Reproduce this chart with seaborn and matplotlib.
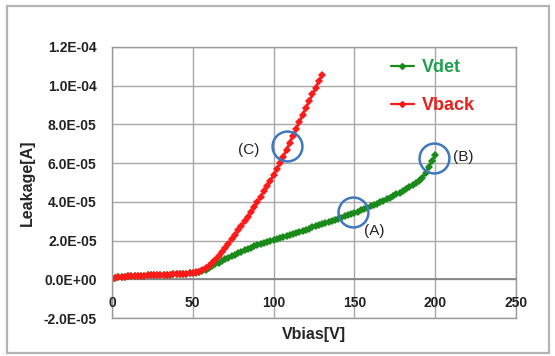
import numpy as np
import pandas as pd
import seaborn as sns
import matplotlib
matplotlib.use("Agg")
import matplotlib.pyplot as plt
from matplotlib.lines import Line2D
from matplotlib.patches import Rectangle

# Bias voltage sweeps [V]
vback_bias = list(range(0, 131, 2))
vdet_bias = list(range(0, 201, 2))

# Leakage current in microamps for the back-side bias sweep
vback_leak_ua = [
    0.2, 0.8, 1.1, 1.3, 1.4, 1.5, 1.6, 1.7, 1.8, 1.8,
    1.9, 2.0, 2.0, 2.1, 2.2, 2.2, 2.3, 2.4, 2.4, 2.5,
    2.6, 2.7, 2.8, 2.9, 3.1, 3.3, 3.6, 4.0, 4.7, 5.6,
    6.8, 8.3, 10.0, 11.9, 13.9, 16.0, 18.3, 20.6, 22.9, 25.3,
    27.7, 30.0, 32.3, 34.8, 37.4, 40.0, 42.7, 45.4, 48.2, 51.0,
    53.9, 56.9, 60.0, 63.4, 67.0, 70.6, 74.2, 77.8, 81.4, 85.0,
    88.6, 92.0, 95.5, 98.9, 102.2, 105.4,
]

# Leakage current in microamps for the detector bias sweep
vdet_leak_ua = [
    0.2, 0.8, 1.1, 1.3, 1.4, 1.5, 1.6, 1.7, 1.8, 1.8,
    1.9, 2.0, 2.0, 2.1, 2.2, 2.2, 2.3, 2.4, 2.4, 2.5,
    2.6, 2.7, 2.8, 2.9, 3.1, 3.3, 3.5, 3.9, 4.4, 5.0,
    5.8, 6.8, 7.7, 8.6, 9.5, 10.4, 11.2, 12.0, 12.8, 13.6,
    14.3, 15.0, 15.8, 16.4, 17.0, 17.6, 18.2, 18.7, 19.2, 19.7,
    20.2, 20.7, 21.3, 21.8, 22.4, 22.9, 23.5, 24.0, 24.6, 25.1,
    25.7, 26.2, 26.8, 27.3, 27.9, 28.4, 29.0, 29.5, 30.1, 30.7,
    31.3, 31.9, 32.5, 33.1, 33.7, 34.3, 34.9, 35.6, 36.3, 37.0,
    37.7, 38.4, 39.1, 39.8, 40.6, 41.4, 42.2, 43.0, 43.9, 44.8,
    45.8, 46.8, 47.9, 48.9, 49.9, 51.0, 52.5, 55.0, 58.2, 61.2,
    64.0,
]

series_names = ["Vdet", "Vback"]
line_colors = {"Vdet": "#1a8a1a", "Vback": "#ff1a1a"}
legend_text_colors = {"Vdet": "#1fa04e", "Vback": "#e8201c"}

x_ticks = [0, 50, 100, 150, 200, 250]
y_ticks = [-2e-5, 0.0, 2e-5, 4e-5, 6e-5, 8e-5, 1.0e-4, 1.2e-4]

# Marked points of interest: (label, circle V, circle I, label V, label I)
callouts = [
    ("(A)", 149.3, 3.48e-5, 162.5, 2.50e-5),
    ("(B)", 199.0, 6.24e-5, 217.6, 6.32e-5),
    ("(C)", 108.6, 6.87e-5, 84.6, 6.70e-5),
]

df = pd.concat([
    pd.DataFrame({"Vbias": vdet_bias,
                  "Leakage": np.array(vdet_leak_ua) * 1e-6,
                  "series": "Vdet"}),
    pd.DataFrame({"Vbias": vback_bias,
                  "Leakage": np.array(vback_leak_ua) * 1e-6,
                  "series": "Vback"}),
], ignore_index=True)

sns.set_style("white")
plt.rcParams["font.family"] = ["Liberation Sans", "DejaVu Sans"]

fig = plt.figure(figsize=(5.55, 3.56), dpi=100)
ax = fig.add_axes([112 / 555, 1 - 318 / 356, 404 / 555, 271 / 356])

sns.lineplot(
    data=df, x="Vbias", y="Leakage", hue="series", style="series",
    hue_order=series_names, palette=line_colors,
    markers={"Vdet": "D", "Vback": "D"}, dashes=False,
    markersize=4.0, markeredgewidth=0, linewidth=2.0,
    sort=False, legend=False, ax=ax,
)

ax.set_xlim(0, 250)
ax.set_ylim(-2e-5, 1.2e-4)
ax.set_xticks(x_ticks)
ax.set_yticks(y_ticks)
ax.set_yticklabels([f"{v:.1E}" for v in y_ticks],
                   fontsize=10, fontweight="bold", color="#222222")
ax.set_xticklabels([])
ax.tick_params(axis="both", length=0)
ax.tick_params(axis="y", pad=11)

ax.grid(True, color="#a8a8a8", linewidth=1.0)
for sp in ax.spines.values():
    sp.set_color("#9a9a9a")
    sp.set_linewidth(1.0)
ax.axhline(0, color="#808080", linewidth=1.2, zorder=1)

# Category labels hang under the zero line, as the axis crosses there
for v in x_ticks:
    ax.annotate(str(v), xy=(v, 0), xytext=(0, -24), textcoords="offset pixels",
                ha="center", va="center", fontsize=10, fontweight="bold",
                color="#222222", annotation_clip=False)

ax.set_xlabel("Vbias[V]", fontsize=11.5, fontweight="bold", va="center")
ax.xaxis.set_label_coords(0.5, -0.062)
ax.set_ylabel("Leakage[A]", fontsize=11.5, fontweight="bold", va="center")
ax.yaxis.set_label_coords(-(112 - 27) / 404, 0.5)

# Circled regions with their letters
for label, cv, ci, lv, li in callouts:
    ax.plot([cv], [ci], marker="o", markersize=21.5, markerfacecolor="none",
            markeredgecolor="#3f78c0", markeredgewidth=1.8, zorder=5)
    ax.text(lv, li, label, ha="center", va="center", fontsize=11,
            color="#222222", zorder=6)

handles = [
    Line2D([0], [0], color=line_colors[s], marker="D", markersize=3,
           linewidth=1.6) for s in series_names
]
leg = ax.legend(handles, series_names, loc="upper left",
                bbox_to_anchor=(0.69, 0.955), frameon=False,
                prop={"size": 13, "weight": "bold"},
                handlelength=1.3, handletextpad=0.4, labelspacing=1.15,
                borderpad=0, borderaxespad=0)
for txt, s in zip(leg.get_texts(), series_names):
    txt.set_color(legend_text_colors[s])

# Chart-area border
fig.patches.append(Rectangle((7 / 555, 1 - 353 / 356), 542 / 555, 347 / 356,
                             transform=fig.transFigure, fill=False,
                             edgecolor="#b4b4b4", linewidth=1.6))

fig.savefig("out.png", dpi=100)
